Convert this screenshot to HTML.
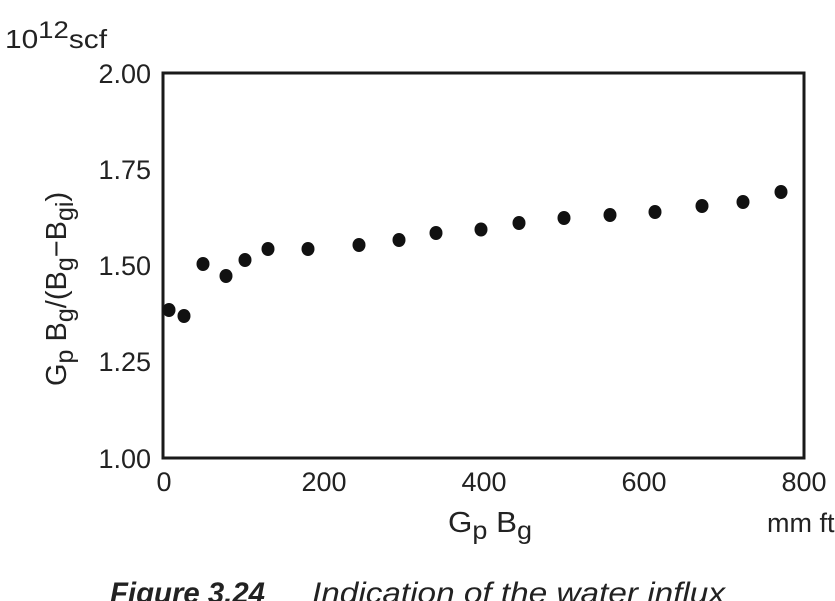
<!DOCTYPE html>
<html><head><meta charset="utf-8"><style>
html,body{margin:0;padding:0;background:#fff;}
svg{display:block;}
text{font-family:"Liberation Sans",Arial,sans-serif;fill:#222;}
</style></head><body>
<svg width="835" height="601" viewBox="0 0 835 601" xmlns="http://www.w3.org/2000/svg">
<text x="5" y="48" font-size="26" textLength="102" lengthAdjust="spacingAndGlyphs">10<tspan dy="-10" font-size="24">12</tspan><tspan dy="10">scf</tspan></text>
<rect x="163" y="73" width="641" height="385" fill="none" stroke="#1a1a1a" stroke-width="3"/>
<g font-size="27" text-anchor="end">
<text x="151" y="83">2.00</text>
<text x="151" y="179">1.75</text>
<text x="151" y="275">1.50</text>
<text x="151" y="371">1.25</text>
<text x="151" y="468">1.00</text>
</g>
<g font-size="27" text-anchor="middle">
<text x="164" y="491">0</text>
<text x="324" y="491">200</text>
<text x="484" y="491">400</text>
<text x="644" y="491">600</text>
<text x="804" y="491">800</text>
</g>
<text x="448" y="532" font-size="29" textLength="84" lengthAdjust="spacingAndGlyphs">G<tspan dy="7" font-size="25">p</tspan><tspan dy="-7"> B</tspan><tspan dy="7" font-size="25">g</tspan></text>
<text x="767" y="532" font-size="27">mm ft</text>
<text transform="translate(66,386) rotate(-90)" font-size="29">G<tspan dy="7" font-size="25">p</tspan><tspan dy="-7"> B</tspan><tspan dy="7" font-size="25">g</tspan><tspan dy="-7">/(B</tspan><tspan dy="7" font-size="25">g</tspan><tspan dy="-7">−B</tspan><tspan dy="7" font-size="25">gi</tspan><tspan dy="-7">)</tspan></text>
<g fill="#111">
<ellipse cx="169" cy="310" rx="6.5" ry="7"/>
<ellipse cx="184" cy="316" rx="6.5" ry="7"/>
<ellipse cx="203" cy="264" rx="6.5" ry="7"/>
<ellipse cx="226" cy="276" rx="6.5" ry="7"/>
<ellipse cx="245" cy="260" rx="6.5" ry="7"/>
<ellipse cx="268" cy="249" rx="6.5" ry="7"/>
<ellipse cx="308" cy="249" rx="6.5" ry="7"/>
<ellipse cx="359" cy="245" rx="6.5" ry="7"/>
<ellipse cx="399" cy="240" rx="6.5" ry="7"/>
<ellipse cx="436" cy="233" rx="6.5" ry="7"/>
<ellipse cx="481" cy="229.5" rx="6.5" ry="7"/>
<ellipse cx="519" cy="223" rx="6.5" ry="7"/>
<ellipse cx="564" cy="218" rx="6.5" ry="7"/>
<ellipse cx="610" cy="215" rx="6.5" ry="7"/>
<ellipse cx="655" cy="212" rx="6.5" ry="7"/>
<ellipse cx="702" cy="206" rx="6.5" ry="7"/>
<ellipse cx="743" cy="202" rx="6.5" ry="7"/>
<ellipse cx="781" cy="192" rx="6.5" ry="7"/>
</g>
<text x="110" y="603" font-size="30" font-style="italic" font-weight="bold" textLength="155" lengthAdjust="spacingAndGlyphs">Figure 3.24</text>
<text x="312" y="603" font-size="30" font-style="italic" textLength="413" lengthAdjust="spacingAndGlyphs">Indication of the water influx</text>
</svg>
</body></html>
